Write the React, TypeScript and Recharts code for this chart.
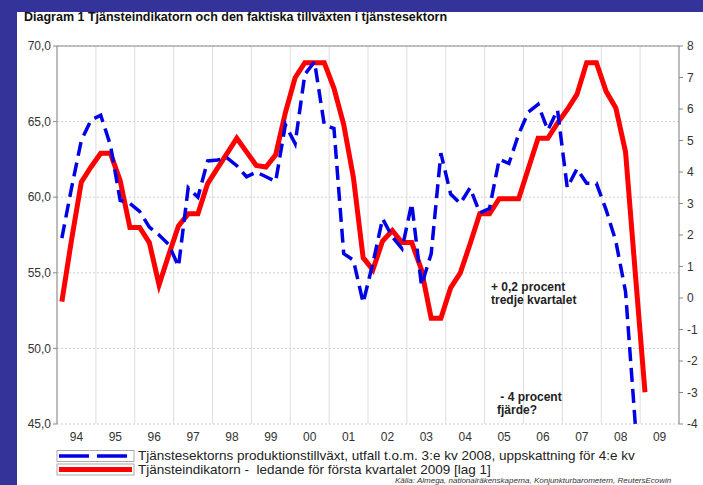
import React from 'react';
import { LineChart, Line, XAxis, YAxis, CartesianGrid, ReferenceLine } from 'recharts';

const startYear = 1994;
const yearLabels = ['94', '95', '96', '97', '98', '99', '00', '01', '02', '03', '04', '05', '06', '07', '08', '09'];
const leftTicks = [45, 50, 55, 60, 65, 70];
const rightTicks = [-4, -3, -2, -1, 0, 1, 2, 3, 4, 5, 6, 7, 8];

// Tjänsteindikatorn (left axis), quarterly 1994Q1 - 2009Q1
const indicatorValues = [
  53.1, 57.2, 61.0, 62.0,
  62.9, 62.9, 61.1, 58.0,
  58.0, 57.0, 54.2, 56.2,
  58.1, 58.9, 58.9, 60.9,
  61.9, 62.9, 63.9, 63.0,
  62.1, 62.0, 62.8, 65.6,
  67.9, 68.9, 68.9, 68.9,
  67.2, 64.8, 61.3, 56.0,
  55.2, 57.1, 57.8, 57.0,
  57.0, 55.2, 52.0, 52.0,
  54.0, 55.0, 56.9, 58.9,
  58.9, 59.9, 59.9, 59.9,
  61.9, 63.9, 63.9, 64.9,
  65.8, 66.8, 68.9, 68.9,
  67.0, 65.9, 63.0, 55.0,
  47.1,
];

// Tjänstesektorns produktionstillväxt (right axis, %), quarterly 1994Q1 - 2008Q4
const growthValues = [
  1.9, 3.5, 5.0, 5.65,
  5.8, 4.85, 3.1, 3.0,
  2.75, 2.25, 2.0, 1.7,
  1.0, 3.5, 3.2, 4.35,
  4.38, 4.45, 4.2, 3.85,
  4.0, 3.85, 3.7, 5.5,
  4.9, 7.1, 7.5, 5.5,
  5.38, 1.41, 1.2, -0.15,
  1.1, 2.52, 1.94, 1.57,
  3.0, 0.4, 1.4, 4.6,
  3.3, 3.0, 3.5, 2.7,
  2.84, 4.4, 4.27, 5.2,
  5.9, 6.15, 5.33, 5.97,
  3.5, 4.1, 3.64, 3.64,
  2.8, 1.8, 0.2, -4.0,
];

const data = indicatorValues.map((v, i) => ({
  t: startYear + i / 4 + 0.125,
  indicator: v,
  growth: i < growthValues.length ? growthValues[i] : null,
}));

const boundaryTicks = Array.from({ length: yearLabels.length + 1 }, (_, i) => startYear + i);
const midTicks = yearLabels.map((_, i) => startYear + i + 0.5);

const FONT = '"Liberation Sans", Arial, sans-serif';
const AXIS = '#8a8a8a';
const TXT = '#333';

export default function App() {
  return (
    <div style={{ position: 'absolute', left: 0, top: 0, width: 703, height: 485, background: '#333399', overflow: 'hidden', fontFamily: FONT }}>
      <div style={{ position: 'absolute', left: 17, top: 12, right: 0, bottom: 0, background: '#ffffff' }} />
      <div style={{ position: 'absolute', left: 24, top: 10, fontSize: 12.5, fontWeight: 'bold', color: '#111', whiteSpace: 'nowrap' }}>
        Diagram 1 Tjänsteindikatorn och den faktiska tillväxten i tjänstesektorn
      </div>
      <div style={{ position: 'absolute', left: 0, top: 0 }}>
        <LineChart width={703} height={485} data={data} margin={{ top: 46, right: 0, bottom: 31, left: 7 }}>
          <CartesianGrid xAxisId="x" yAxisId="left" vertical={false} stroke="#cfcfcf" strokeDasharray="2 2" />
          <CartesianGrid xAxisId="x" yAxisId="left" horizontal={false} stroke="#dddddd" />
          <XAxis xAxisId="x" dataKey="t" type="number" domain={[1994, 2010]} ticks={boundaryTicks}
            tickFormatter={() => ''} height={0} tickSize={5} stroke={AXIS} allowDataOverflow />
          <XAxis xAxisId="lab" dataKey="t" type="number" domain={[1994, 2010]} ticks={midTicks}
            tickFormatter={(v: number) => yearLabels[Math.floor(v) - startYear]} height={30}
            axisLine={false} tickLine={false} tick={{ fontSize: 12, fill: TXT, fontFamily: FONT }} allowDataOverflow />
          <YAxis yAxisId="left" domain={[45, 70]} ticks={leftTicks} width={50} tickSize={4} tickMargin={2}
            stroke={AXIS} tickFormatter={(v: number) => v.toFixed(1).replace('.', ',')}
            tick={{ fontSize: 12, fill: TXT, fontFamily: FONT }} allowDataOverflow />
          <YAxis yAxisId="right" orientation="right" domain={[-4, 8]} ticks={rightTicks} width={24} tickSize={4} tickMargin={4}
            stroke={AXIS} tick={{ fontSize: 12, fill: TXT, fontFamily: FONT }} allowDataOverflow />
          <ReferenceLine xAxisId="x" yAxisId="left" y={70} stroke={AXIS} />
          <Line xAxisId="x" yAxisId="left" dataKey="indicator" stroke="#ff0000" strokeWidth={5} dot={false}
            isAnimationActive={false} type="linear" />
          <Line xAxisId="x" yAxisId="right" dataKey="growth" stroke="#0000e6" strokeWidth={3.5} strokeDasharray="14 7"
            dot={false} isAnimationActive={false} type="linear" />
        </LineChart>
      </div>
      <div style={{ position: 'absolute', left: 491, top: 281, fontSize: 12, fontWeight: 'bold', color: '#222', lineHeight: '13px', whiteSpace: 'nowrap' }}>
        <div>+ 0,2 procent</div>
        <div>tredje kvartalet</div>
      </div>
      <div style={{ position: 'absolute', left: 497, top: 391, fontSize: 12, fontWeight: 'bold', color: '#222', lineHeight: '13px', whiteSpace: 'nowrap' }}>
        <div>&nbsp;- 4 procent</div>
        <div>fjärde?</div>
      </div>
      <svg style={{ position: 'absolute', left: 0, top: 0 }} width={703} height={485}>
        <rect x={57} y={450.5} width={77} height={11} fill="none" stroke="#aaa" strokeWidth={1} />
        <line x1={59} y1={456} x2={132} y2={456} stroke="#0000e6" strokeWidth={3.5} strokeDasharray="30 8" />
        <rect x={57} y={464} width={77} height={11} fill="none" stroke="#aaa" strokeWidth={1} />
        <line x1={59} y1={469.5} x2={132} y2={469.5} stroke="#ff0000" strokeWidth={5} />
      </svg>
      <div style={{ position: 'absolute', left: 138, top: 449, fontSize: 13.5, color: '#222', lineHeight: '13.5px', whiteSpace: 'nowrap' }}>
        <div>Tjänstesektorns produktionstillväxt, utfall t.o.m. 3:e kv 2008, uppskattning för 4:e kv</div>
        <div>Tjänsteindikatorn -&nbsp; ledande för första kvartalet 2009 [lag 1]</div>
      </div>
      <div style={{ position: 'absolute', left: 395, top: 477, fontSize: 8, lineHeight: '8px', fontStyle: 'italic', color: '#333', whiteSpace: 'nowrap' }}>
        Källa: Almega, nationalräkenskaperna, Konjunkturbarometern, ReutersEcowin
      </div>
    </div>
  );
}
